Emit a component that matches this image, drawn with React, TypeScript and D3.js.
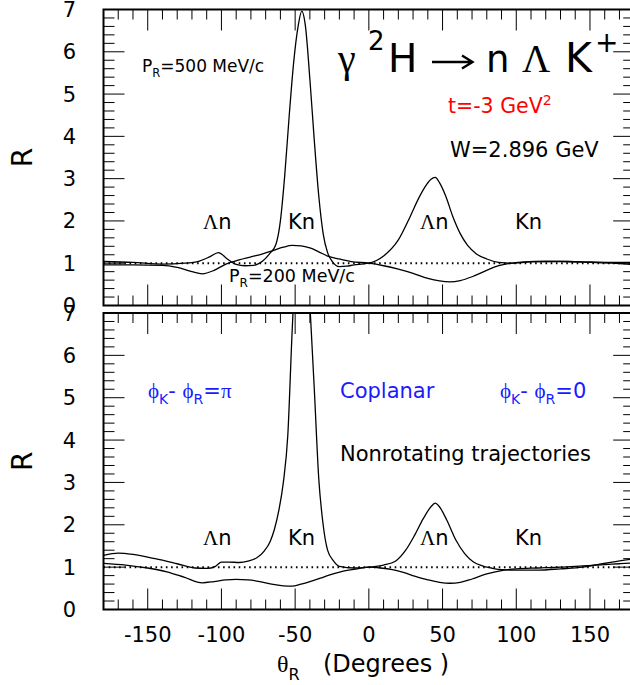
import React from "react";
import * as d3 from "d3";

// ---------- data ----------
const THETA_TOP_500 = [-180,-160,-140,-125,-115,-108,-102,-96,-90,-84,-78,-72,-67,-63,-60,-57,-54,-51,-48,-45.5,-43,-40,-37,-34,-31,-28,-25,-20,-15,-10,-5,0,10,20,28,34,38,42,45,48,52,57,62,67,73,80,88,96,110,130,150,165,180];
const R_TOP_500 = [1.04,1.02,0.98,1.0,1.05,1.15,1.25,1.1,0.97,0.94,0.95,1.05,1.24,1.45,2.0,3.1,4.5,5.75,6.6,6.96,6.6,5.35,3.9,2.6,1.7,1.25,1.05,0.92,0.93,0.96,0.98,1.0,1.17,1.55,2.1,2.55,2.8,2.98,3.03,2.9,2.6,2.1,1.7,1.42,1.22,1.1,1.02,1.0,1.03,1.04,1.03,1.02,1.02];

const THETA_TOP_200 = [-180,-160,-140,-130,-120,-113,-105,-97,-88,-80,-72,-65,-58,-52,-46,-40,-34,-28,-20,-12,0,10,20,30,40,48,55,62,70,78,86,95,105,120,135,150,165,180];
const R_TOP_200 = [0.96,0.96,0.95,0.9,0.8,0.75,0.83,0.98,1.08,1.15,1.22,1.3,1.38,1.42,1.41,1.36,1.27,1.17,1.1,1.04,1.0,0.94,0.86,0.76,0.64,0.58,0.56,0.59,0.68,0.8,0.92,0.99,1.03,1.05,1.04,1.02,1.0,0.97];

const THETA_BOT_A = [-180,-170,-160,-145,-130,-118,-110,-104,-100,-95,-88,-82,-76,-71,-67,-64,-61,-58,-55,-52,-49,-46,-43,-40,-37,-34,-31,-28,-24,-20,-10,0,10,18,25,31,37,42,45,48,53,59,65,71,77,83,90,100,115,130,145,155,165,180];
const R_BOT_A = [1.28,1.33,1.3,1.2,1.08,0.98,0.97,1.02,1.12,1.12,1.11,1.14,1.22,1.38,1.6,1.9,2.35,3.0,4.1,6.6,8.6,9.5,9.0,7.2,5.2,3.1,2.0,1.4,1.15,1.02,0.98,1.0,1.05,1.14,1.4,1.75,2.15,2.42,2.51,2.42,2.1,1.64,1.32,1.12,1.03,0.98,0.94,0.93,0.93,0.96,1.0,1.06,1.12,1.2];

const THETA_BOT_B = [-180,-165,-150,-137,-125,-113,-105,-97,-90,-82,-74,-66,-58,-52,-46,-40,-33,-27,-18,-8,0,8,16,24,31,40,48,55,62,70,80,90,100,115,130,145,160,170,180];
const R_BOT_B = [1.09,1.05,0.98,0.89,0.76,0.63,0.66,0.7,0.71,0.7,0.66,0.6,0.56,0.55,0.6,0.66,0.74,0.81,0.9,0.96,1.0,0.98,0.94,0.87,0.79,0.7,0.64,0.62,0.64,0.72,0.84,0.92,0.96,0.98,1.0,1.03,1.06,1.08,1.1];

const X_MAJOR = [-150,-100,-50,0,50,100,150];
const Y_MAJOR = [0,1,2,3,4,5,6,7];

// ---------- layout ----------
const W = 630, H = 685;
const X0 = 103.5, X1 = 634.2;
const PANELS = [
  { id: "top", yBottom: 305.5, yTop: 9.5 },
  { id: "bot", yBottom: 609.5, yTop: 313 },
];
const SANS = "'DejaVu Sans', sans-serif";
const SERIF = "'Liberation Serif', serif";
const BLUE = "#1a1aff";

const x = d3.scaleLinear().domain([-180, 180]).range([X0, X1]);

function Panel({ p, series }: { p: any; series: { th: number[]; r: number[] }[] }) {
  const y = d3.scaleLinear().domain([0, 7]).range([p.yBottom, p.yTop]);
  const line = d3
    .line<[number, number]>()
    .x((d) => x(d[0]))
    .y((d) => y(d[1]))
    .curve(d3.curveMonotoneX);
  const xMinor = d3.range(-170, 180, 10);
  const yMinor = d3.range(0, 7.01, 0.2);
  const clipId = "clip-" + p.id;
  return (
    <g>
      <defs>
        <clipPath id={clipId}>
          <rect x={X0} y={p.yTop} width={X1 - X0} height={p.yBottom - p.yTop} />
        </clipPath>
      </defs>
      <g clipPath={`url(#${clipId})`}>
        <line x1={X0} x2={X1} y1={y(1)} y2={y(1)} stroke="#000" strokeWidth={2} strokeDasharray="1.6 3.6" />
        {series.map((s, i) => (
          <path key={i} d={line(s.th.map((t, j) => [t, s.r[j]] as [number, number])) || ""} fill="none" stroke="#000" strokeWidth={1.3} />
        ))}
      </g>
      {xMinor.map((t) => {
        const major = X_MAJOR.includes(t);
        const len = major ? 21 : 10;
        return (
          <g key={"xt" + t}>
            <line x1={x(t)} x2={x(t)} y1={p.yBottom} y2={p.yBottom - len} stroke="#000" strokeWidth={1} />
            <line x1={x(t)} x2={x(t)} y1={p.yTop} y2={p.yTop + len} stroke="#000" strokeWidth={1} />
          </g>
        );
      })}
      {yMinor.map((v, i) => {
        const major = i % 5 === 0;
        const len = major ? 21 : 11;
        return (
          <g key={"yt" + i}>
            <line x1={X0} x2={X0 + len} y1={y(v)} y2={y(v)} stroke="#000" strokeWidth={1} />
            <line x1={X1} x2={X1 - len} y1={y(v)} y2={y(v)} stroke="#000" strokeWidth={1} />
          </g>
        );
      })}
      {Y_MAJOR.map((v) => (
        <text key={"yl" + v} x={76} y={y(v) + 7.5} textAnchor="end" fontFamily={SANS} fontSize={21}>
          {v}
        </text>
      ))}
      <rect x={X0} y={p.yTop} width={X1 - X0} height={p.yBottom - p.yTop} fill="none" stroke="#000" strokeWidth={2} />
      <text transform={`translate(32,${(p.yTop + p.yBottom) / 2}) rotate(-90)`} textAnchor="middle" fontFamily={SANS} fontSize={28}>
        R
      </text>
    </g>
  );
}

function LamN({ xx, yy }: { xx: number; yy: number }) {
  return (
    <text x={xx} y={yy} fontSize={21} fontFamily={SANS}>
      <tspan fontFamily={SERIF}>Λ</tspan>n
    </text>
  );
}

function PhiLabel({ xx, yy, end, endSerif }: { xx: number; yy: number; end: string; endSerif: boolean }) {
  return (
    <text x={xx} y={yy} fontSize={21} fontFamily={SANS} fill={BLUE}>
      <tspan fontFamily={SERIF}>ϕ</tspan>
      <tspan fontSize={14} dy={6}>K</tspan>
      <tspan dy={-6}>- </tspan>
      <tspan fontFamily={SERIF}>ϕ</tspan>
      <tspan fontSize={14} dy={6}>R</tspan>
      <tspan dy={-6}>=</tspan>
      <tspan fontFamily={endSerif ? SERIF : SANS}>{end}</tspan>
    </text>
  );
}

export default function App() {
  return (
    <svg width={W} height={H} style={{ position: "absolute", left: 0, top: 0, background: "#fff" }}>
      <rect x={0} y={0} width={W} height={H} fill="#fff" />
      <Panel p={PANELS[0]} series={[{ th: THETA_TOP_500, r: R_TOP_500 }, { th: THETA_TOP_200, r: R_TOP_200 }]} />
      <Panel p={PANELS[1]} series={[{ th: THETA_BOT_A, r: R_BOT_A }, { th: THETA_BOT_B, r: R_BOT_B }]} />

      {X_MAJOR.map((t) => (
        <text key={"xl" + t} x={x(t)} y={642} textAnchor="middle" fontFamily={SANS} fontSize={21}>
          {t}
        </text>
      ))}
      <text x={277} y={672} fontFamily={SANS} fontSize={24}>
        <tspan fontFamily={SERIF}>θ</tspan>
        <tspan fontSize={16} dy={8}>R</tspan>
        <tspan dy={-8} x={323}>(Degrees )</tspan>
      </text>

      <text x={142} y={72} fontFamily={SANS} fontSize={17}>
        P<tspan fontSize={11.5} dy={5}>R</tspan>
        <tspan dy={-5}>=500 MeV/c</tspan>
      </text>
      <text x={229} y={282} fontFamily={SANS} fontSize={17.5}>
        P<tspan fontSize={12} dy={5}>R</tspan>
        <tspan dy={-5}>=200 MeV/c</tspan>
      </text>
      <text x={338} y={72} fontFamily={SERIF} fontSize={40}>γ</text>
      <text x={368} y={50} fontFamily={SANS} fontSize={26}>2</text>
      <text x={388} y={72} fontFamily={SANS} fontSize={39}>H</text>
      <path d="M432,62 H471 M462,55.5 L472.5,62 L462,68.5" fill="none" stroke="#000" strokeWidth={2.4} />
      <text x={486} y={72} fontFamily={SANS} fontSize={37}>n</text>
      <text x={522} y={72} fontFamily={SERIF} fontSize={39}>Λ</text>
      <text x={565} y={72} fontFamily={SANS} fontSize={41}>K</text>
      <text x={595} y={52} fontFamily={SANS} fontSize={28}>+</text>
      <text x={448} y={113} fontFamily={SANS} fontSize={20.5} fill="#ff0000">
        t=-3 GeV<tspan fontSize={14} dy={-8}>2</tspan>
      </text>
      <text x={450} y={157} fontFamily={SANS} fontSize={21}>W=2.896 GeV</text>
      <LamN xx={203} yy={229} />
      <text x={288} y={229} fontFamily={SANS} fontSize={21}>Kn</text>
      <LamN xx={420} yy={229} />
      <text x={515} y={229} fontFamily={SANS} fontSize={21}>Kn</text>

      <PhiLabel xx={148} yy={398} end="π" endSerif={true} />
      <text x={340} y={398} fontFamily={SANS} fontSize={21} fill={BLUE}>Coplanar</text>
      <PhiLabel xx={500} yy={398} end="0" endSerif={false} />
      <text x={340} y={461} fontFamily={SANS} fontSize={21}>Nonrotating trajectories</text>
      <LamN xx={203} yy={545} />
      <text x={288} y={545} fontFamily={SANS} fontSize={21}>Kn</text>
      <LamN xx={420} yy={545} />
      <text x={515} y={545} fontFamily={SANS} fontSize={21}>Kn</text>
    </svg>
  );
}
